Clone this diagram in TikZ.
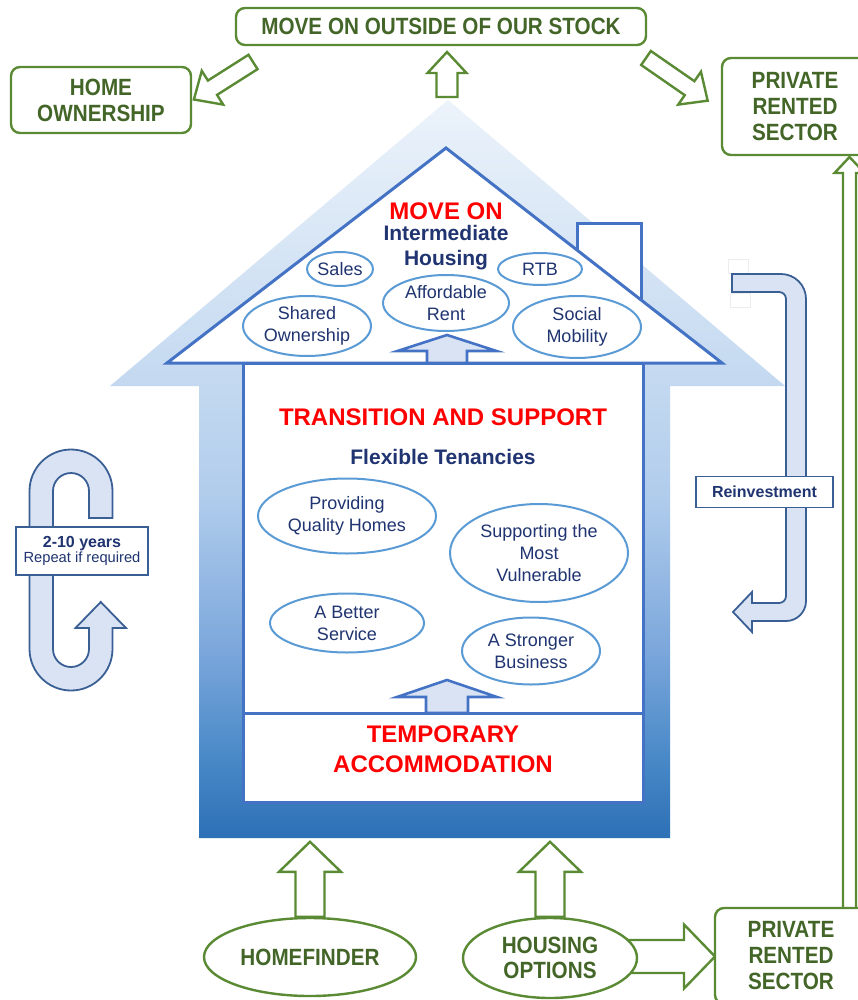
\documentclass[tikz,border=0pt]{standalone}
\usepackage{fontspec}
\setmainfont{Liberation Sans}
\newfontfamily\narrowfont{Liberation Sans}[FakeStretch=0.88]
\usetikzlibrary{shapes.geometric,calc}

\definecolor{boxgreen}{HTML}{5A8A34}
\definecolor{textgreen}{HTML}{436628}
\definecolor{navy}{HTML}{1F3470}
\definecolor{houseblue}{HTML}{4472C4}
\definecolor{ovalblue}{HTML}{5B9BD5}
\definecolor{arrowfill}{HTML}{DAE3F3}
\definecolor{loopline}{HTML}{3A5F95}
\definecolor{shadeA}{RGB}{46,112,182}
\definecolor{shadeB}{RGB}{70,135,198}
\definecolor{shadeC}{RGB}{125,168,220}
\definecolor{shadeD}{RGB}{176,204,236}
\definecolor{shadeE}{RGB}{196,217,240}
\definecolor{shadeF}{RGB}{236,243,251}

\pgfdeclareverticalshading{houseshade}{100bp}{color(0bp)=(shadeA); color(25bp)=(shadeA); color(30bp)=(shadeB); color(38bp)=(shadeC); color(48bp)=(shadeD); color(56bp)=(shadeE); color(75bp)=(shadeF); color(100bp)=(shadeF)}

\tikzset{
  greenbox/.style={draw=boxgreen, line width=2.4pt, rounded corners=9pt, fill=white, text=textgreen,
    font=\narrowfont\bfseries\fontsize{23.5}{26}\selectfont, align=center, inner sep=0pt},
  greenoval/.style={ellipse, draw=boxgreen, line width=2.4pt, fill=white, text=textgreen,
    font=\narrowfont\bfseries\fontsize{23.5}{25}\selectfont, align=center, inner sep=0pt},
  greenarrow/.style={draw=boxgreen, line width=2.4pt, line join=miter},
  housearrow/.style={draw=houseblue, line width=2.6pt, fill=arrowfill, line join=miter},
  looparrow/.style={draw=loopline, line width=1.8pt, fill=arrowfill, line join=miter},
  houseline/.style={draw=houseblue, line width=3pt},
  ovalnode/.style={ellipse, draw=ovalblue, line width=2pt, fill=white, text=navy,
    font=\fontsize{18}{22}\selectfont, align=center, inner sep=0pt},
  redtitle/.style={text=red, font=\bfseries\fontsize{24}{30}\selectfont, align=center, inner sep=0pt},
  navytitle/.style={text=navy, font=\bfseries\fontsize{21}{25}\selectfont, align=center, inner sep=0pt},
  labelbox/.style={draw=loopline, line width=1.8pt, fill=white, text=navy, align=center, inner sep=0pt}
}

% hollow block arrow: style, tail, angle, length, shaft half width, head half width, head length
\newcommand{\blockarrow}[7]{%
  \draw[#1,shift={#2},rotate=#3] (0,#5) -- ({#4-#7},#5) -- ({#4-#7},#6) -- (#4,0)
    -- ({#4-#7},-#6) -- ({#4-#7},-#5) -- (0,-#5) -- cycle;}

\begin{document}
\begin{tikzpicture}[x=1pt,y=-1pt]
\useasboundingbox (0,0) rectangle (858,1000);
\fill[white] (0,0) rectangle (858,1000);

% House body
\shade[shading=houseshade] (448,100) -- (785,386) -- (670,386) -- (670,838)
  -- (199,838) -- (199,386) -- (110,386) -- cycle;

% Chimney and roof
\draw[houseline, fill=white] (577,224) rectangle (641,310);
\draw[houseline, fill=white, line join=miter] (446,148) -- (722,363) -- (167,363) -- cycle;

% Rooms
\draw[houseline, fill=white] (243,363) rectangle (643,802);
\draw[houseline] (243,713) -- (643,713);

% Roof contents
\node[redtitle] (moveOn) at (446,211) {MOVE ON};
\node[navytitle] (interHousing) at (446,248) {Intermediate\\Housing};
\node[ovalnode, minimum width=66pt, minimum height=34pt] (sales) at (340,269) {Sales};
\node[ovalnode, minimum width=84pt, minimum height=32pt] (rtb) at (540,269) {RTB};
\node[ovalnode, minimum width=126pt, minimum height=56pt] (affRent) at (446,303) {Affordable\\Rent};
\node[ovalnode, minimum width=128pt, minimum height=60pt] (shared) at (307,326) {Shared\\Ownership};
\node[ovalnode, minimum width=128pt, minimum height=62pt] (social) at (577,327) {Social\\Mobility};
\blockarrow{housearrow}{(447,363)}{90}{28}{20}{49.5}{16}

% Middle floor
\node[redtitle] (transition) at (443,417) {TRANSITION AND SUPPORT};
\node[navytitle] (flexible) at (443,457) {Flexible Tenancies};
\node[ovalnode, minimum width=178pt, minimum height=75pt] (quality) at (347,516) {Providing\\Quality Homes};
\node[ovalnode, minimum width=178pt, minimum height=98pt] (vulnerable) at (539,553) {Supporting the\\Most\\Vulnerable};
\node[ovalnode, minimum width=154pt, minimum height=59pt] (better) at (347,623) {A Better\\Service};
\node[ovalnode, minimum width=138pt, minimum height=67pt] (stronger) at (531,651) {A Stronger\\Business};
\blockarrow{housearrow}{(447,713)}{90}{33}{21}{50}{17}

% Ground floor
\node[redtitle] (temporary) at (443,749) {TEMPORARY\\ACCOMMODATION};

% Repeat loop
\draw[looparrow] (112.5,518) -- (112.5,491) arc[start angle=0, end angle=-180, radius=41.5]
  -- (29.5,649) arc[start angle=180, end angle=0, radius=41.5]
  -- (112.5,628) -- (126,628) -- (100.75,602) -- (75.5,628) -- (89,628)
  -- (89,649) arc[start angle=0, end angle=180, radius=18]
  -- (53,491) arc[start angle=180, end angle=360, radius=18] -- (89,518) -- cycle;
\node[labelbox, minimum width=132pt, minimum height=48pt] (years) at (82,551)
  {{\bfseries\fontsize{16}{20}\selectfont 2-10 years}\\{\fontsize{14.7}{20}\selectfont Repeat if required}};

% Reinvestment loop
\draw[black!7, line width=0.6pt] (728,259) rectangle (748,273);
\draw[black!7, line width=0.6pt] (730,293) rectangle (750,307);
\draw[looparrow] (732,274) -- (781,274) arc[start angle=-90, end angle=0, radius=25]
  -- (806,601) arc[start angle=0, end angle=90, radius=20]
  -- (752,621) -- (752,632) -- (733,612) -- (752,592) -- (752,603)
  -- (779,603) arc[start angle=90, end angle=0, radius=7]
  -- (786,299) arc[start angle=0, end angle=-90, radius=7] -- (732,292) -- cycle;
\node[labelbox, minimum width=137pt, minimum height=31pt, font=\bfseries\fontsize{16}{20}\selectfont] (reinvest) at (764.5,492) {Reinvestment};

% Move on outside
\node[greenbox, minimum width=410pt, minimum height=37pt] (moveOut) at (441,26.5) {MOVE ON OUTSIDE OF OUR STOCK};
\node[greenbox, minimum width=180pt, minimum height=66pt] (homeOwn) at (101,100) {HOME\\OWNERSHIP};
\node[greenbox, minimum width=146pt, minimum height=97pt] (prsTop) at (795,106.5) {PRIVATE\\RENTED\\SECTOR};
\blockarrow{greenarrow}{(447,97)}{90}{45}{10.5}{19.5}{21}
\blockarrow{greenarrow}{(253,62)}{212.4}{70}{8.5}{20}{22}
\blockarrow{greenarrow}{(646,58)}{-34.7}{75}{8.5}{20}{22}

% Ways in
\blockarrow{greenarrow}{(620,956.5)}{0}{95}{16.5}{32}{31}
\blockarrow{greenarrow}{(849.5,915)}{90}{758}{6.5}{15}{16}
\node[greenoval, minimum width=212pt, minimum height=78pt] (homefinder) at (310,957) {HOMEFINDER};
\node[greenoval, minimum width=174pt, minimum height=80pt] (housingOpt) at (550,958) {HOUSING\\OPTIONS};
\node[greenbox, minimum width=152pt, minimum height=96pt] (prsBot) at (791,956) {PRIVATE\\RENTED\\SECTOR};
\blockarrow{greenarrow}{(homefinder.north)}{90}{75}{14.5}{31}{30}
\blockarrow{greenarrow}{(housingOpt.north)}{90}{75}{14.5}{31}{30}

\end{tikzpicture}
\end{document}
